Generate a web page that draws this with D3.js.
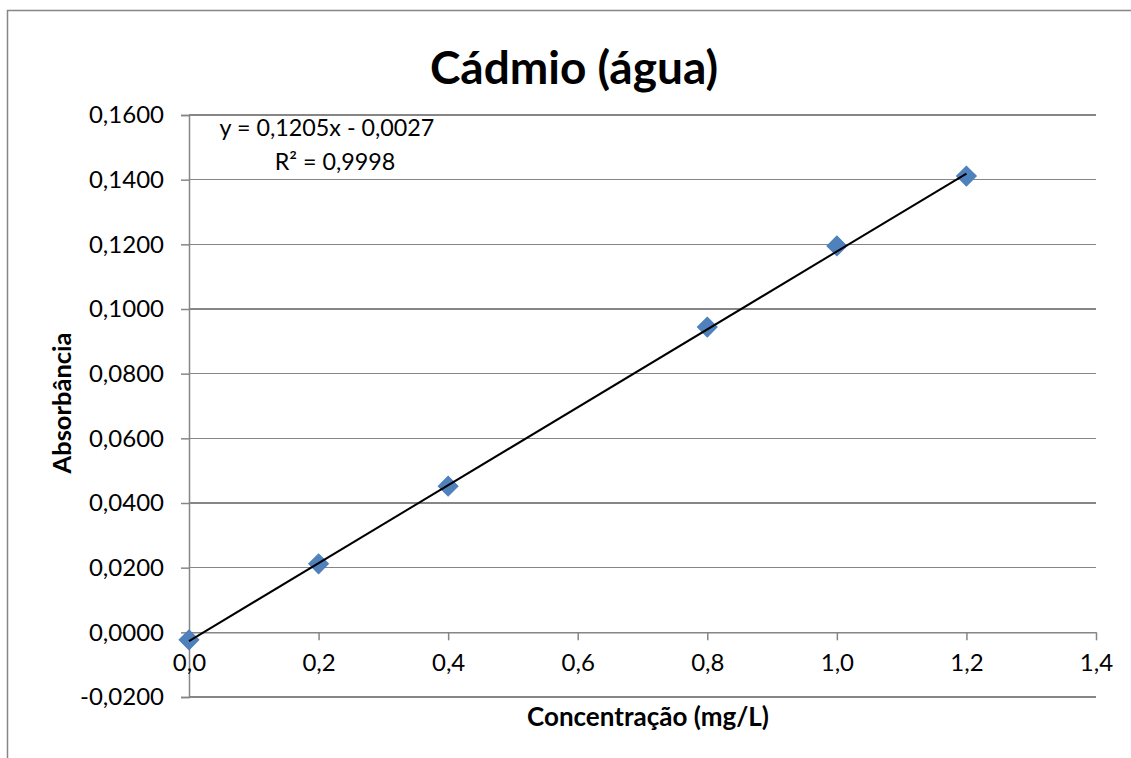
<!DOCTYPE html>
<html><head><meta charset="utf-8">
<script src="https://cdn.jsdelivr.net/npm/d3@7"></script>
<style>body{margin:0;background:#fff}svg{display:block}text{font-family:Lato,"Open Sans",sans-serif;fill:#000}</style>
</head><body><svg id="c" width="1131" height="758"></svg>
<script>
const concentrations = [0.0, 0.2, 0.4, 0.8, 1.0, 1.2];
const absorbances = [-0.0023, 0.0212, 0.0452, 0.0944, 0.1195, 0.1411];
const xTicks = [0, 0.2, 0.4, 0.6, 0.8, 1.0, 1.2, 1.4];
const yTicks = [-0.02, 0, 0.02, 0.04, 0.06, 0.08, 0.10, 0.12, 0.14, 0.16];
const slope = 0.1205, intercept = -0.0027;
const titleText = "Cádmio (água)";
const xTitle = "Concentração (mg/L)";
const yTitle = "Absorbância";
const eqText = "y = 0,1205x - 0,0027";
const r2Text = "R² = 0,9998";

const svg = d3.select("#c");
const grey = "#868686";
svg.append("rect").attr("x",7.5).attr("y",10.5).attr("width",1200).attr("height",800)
  .attr("fill","#fff").attr("stroke",grey).attr("stroke-width",1.5);

const x = d3.scaleLinear().domain([0,1.4]).range([189,1096]);
const y = d3.scaleLinear().domain([-0.02,0.16]).range([697,115]);
const fmtY = v => d3.format(".4f")(v).replace(".",",").replace("−","-");
const fmtX = v => d3.format(".1f")(v).replace(".",",");

// gridlines
svg.append("g").selectAll("line").data(yTicks).join("line")
  .attr("x1",x(0)).attr("x2",x(1.4)).attr("y1",d=>y(d)).attr("y2",d=>y(d))
  .attr("stroke",grey).attr("stroke-width",1.5).attr("shape-rendering","crispEdges");

// y axis
const yAxis = svg.append("g").attr("transform",`translate(${x(0)},0)`)
  .call(d3.axisLeft(y).tickValues(yTicks).tickFormat(fmtY).tickSize(8).tickPadding(17));
yAxis.select(".domain").attr("stroke",grey).attr("stroke-width",1.5);
yAxis.selectAll(".tick line").attr("stroke",grey).attr("stroke-width",1.5);
yAxis.selectAll("text").attr("font-size",24).attr("font-family","Lato");

// x axis at y=0
const xAxis = svg.append("g").attr("transform",`translate(0,${y(0)})`)
  .call(d3.axisBottom(x).tickValues(xTicks).tickFormat(fmtX).tickSize(8).tickSizeOuter(0).tickPadding(14));
xAxis.select(".domain").attr("stroke",grey).attr("stroke-width",1.5);
xAxis.selectAll(".tick line").attr("stroke",grey).attr("stroke-width",1.5);
xAxis.selectAll("text").attr("font-size",24).attr("font-family","Lato");

// markers
const sym = d3.symbol().type(d3.symbolSquare).size(196);
svg.append("g").selectAll("path").data(concentrations).join("path")
  .attr("d",sym)
  .attr("transform",(d,i)=>`translate(${x(d)},${y(absorbances[i])}) rotate(45)`)
  .attr("fill","#4F81BD").attr("stroke","#4A7EBB").attr("stroke-width",1);

// trendline
const xs = d3.extent(concentrations);
svg.append("line").attr("x1",x(xs[0])).attr("y1",y(slope*xs[0]+intercept))
  .attr("x2",x(xs[1])).attr("y2",y(slope*xs[1]+intercept))
  .attr("stroke","#000").attr("stroke-width",2);

// texts
svg.append("text").attr("x",574).attr("y",84).attr("text-anchor","middle")
  .attr("font-size",46).attr("font-weight","bold").text(titleText);
svg.append("text").attr("x",648).attr("y",726).attr("text-anchor","middle")
  .attr("font-size",26).attr("font-weight","bold").text(xTitle);
svg.append("text").attr("transform","translate(71,403) rotate(-90)").attr("text-anchor","middle")
  .attr("font-size",25.5).attr("font-weight","bold").text(yTitle);
svg.append("text").attr("x",327).attr("y",136).attr("text-anchor","middle")
  .attr("font-size",23.3).text(eqText);
svg.append("text").attr("x",335).attr("y",170).attr("text-anchor","middle")
  .attr("font-size",23.3).text(r2Text);
</script></body></html>
